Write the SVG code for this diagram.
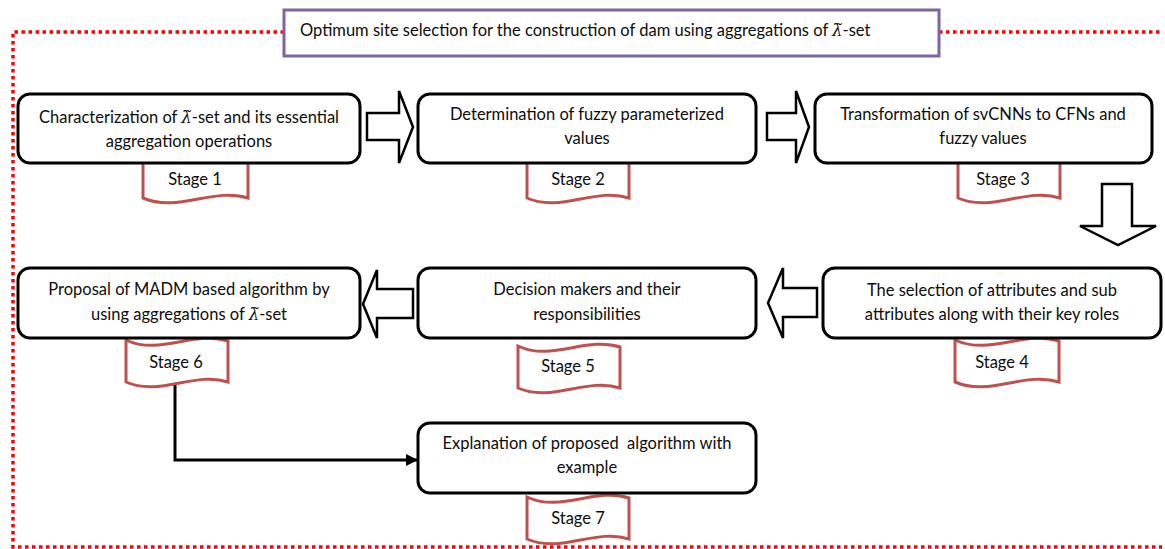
<svg xmlns="http://www.w3.org/2000/svg" width="1165" height="549" viewBox="0 0 1165 549">
<style>
.box{fill:#fff;stroke:#000;stroke-width:3}
.ban{fill:#fff;stroke:#C0504D;stroke-width:3}
.blk{fill:#fff;stroke:#000;stroke-width:2.5;stroke-linejoin:miter}
.t{font-family:Lato,"Liberation Sans","DejaVu Sans",sans-serif;font-size:16.5px;fill:#0d0d0d;text-anchor:middle}
.lam{font-style:italic;font-family:"DejaVu Serif","Liberation Serif",serif}
.dot{fill:none;stroke:#FF0000;stroke-width:3.5;stroke-dasharray:3.5 3.5}
</style>
<defs>
<marker id="ah" markerWidth="12" markerHeight="12" refX="11" refY="6" orient="auto" markerUnits="userSpaceOnUse">
<path d="M0,0 L12,6 L0,12 Z" fill="#000"/>
</marker>
</defs>
<rect width="1165" height="549" fill="#fff"/>
<g id="frame">
<path class="dot" d="M284,32 L13,32 L13,547 L1162,547"/>
<path class="dot" d="M939,32 L1162,32"/>
</g>
<g id="title">
<rect x="284" y="10" width="655" height="46" fill="#fff" stroke="#8064A2" stroke-width="3"/>
<text x="300" y="36" class="t" style="text-anchor:start">Optimum site selection for the construction of dam using aggregations of <tspan class="lam">λ̃</tspan>-set</text>
</g>
<g id="connectors">
<polygon class="blk" points="367,113 399,113 399,91 413,127 399,163 399,140 367,140"/>
<polygon class="blk" points="767,113 796,113 796,91 809,127 796,163 796,140 767,140"/>
<polygon class="blk" points="1102,184 1132,184 1132,226 1156,226 1118,245 1080,226 1102,226"/>
<polygon class="blk" points="817,288 783,288 783,268 768,303 783,338 783,317 817,317"/>
<polygon class="blk" points="413,289 377,289 377,270 363,304 377,338 377,318 413,318"/>
<path d="M175,384 L175,460 L417,460" fill="none" stroke="#000" stroke-width="3" marker-end="url(#ah)"/>
</g>
<g id="stage1">
<path class="ban" d="M143,156 C178,172 213,146 248,157 L248,198 C213,187 178,213 143,198 Z"/>
<rect class="box" x="18" y="94" width="342" height="69" rx="12"/>
<text class="t" x="189" y="123">Characterization of <tspan class="lam">λ̃</tspan>-set and its essential</text>
<text class="t" x="189" y="147">aggregation operations</text>
<text class="t" x="195" y="185">Stage 1</text>
</g>
<g id="stage2">
<path class="ban" d="M527,156 C561,172 595,146 629,157 L629,198 C595,187 561,213 527,198 Z"/>
<rect class="box" x="418" y="94" width="338" height="69" rx="12"/>
<text class="t" x="587" y="120">Determination of fuzzy parameterized</text>
<text class="t" x="587" y="144">values</text>
<text class="t" x="578" y="185">Stage 2</text>
</g>
<g id="stage3">
<path class="ban" d="M958,156 C992,172 1026,146 1060,157 L1060,198 C1026,187 992,213 958,198 Z"/>
<rect class="box" x="815" y="94" width="337" height="69" rx="12"/>
<text class="t" x="983" y="120">Transformation of svCNNs to CFNs and</text>
<text class="t" x="983" y="144">fuzzy values</text>
<text class="t" x="1003" y="185">Stage 3</text>
</g>
<g id="stage4">
<path class="ban" d="M955,340 C990,356 1024,330 1059,341 L1059,382 C1024,371 990,397 955,382 Z"/>
<rect class="box" x="823" y="268" width="338" height="70" rx="12"/>
<text class="t" x="992" y="296">The selection of attributes and sub</text>
<text class="t" x="992" y="320">attributes along with their key roles</text>
<text class="t" x="1002" y="368">Stage 4</text>
</g>
<g id="stage5">
<path class="ban" d="M518,346 C552,362 586,336 620,347 L620,388 C586,377 552,403 518,388 Z"/>
<rect class="box" x="418" y="268" width="338" height="70" rx="12"/>
<text class="t" x="587" y="295">Decision makers and their</text>
<text class="t" x="587" y="320">responsibilities</text>
<text class="t" x="568" y="372">Stage 5</text>
</g>
<g id="stage6">
<path class="ban" d="M126,340 C160,356 194,330 228,341 L228,382 C194,371 160,397 126,382 Z"/>
<rect class="box" x="18" y="268" width="342" height="70" rx="12"/>
<text class="t" x="189" y="295">Proposal of MADM based algorithm by</text>
<text class="t" x="189" y="320">using aggregations of <tspan class="lam">λ̃</tspan>-set</text>
<text class="t" x="176" y="368">Stage 6</text>
</g>
<g id="stage7">
<path class="ban" d="M527,497 C561,513 595,487 629,498 L629,539 C595,528 561,554 527,539 Z"/>
<rect class="box" x="418" y="423" width="338" height="70" rx="12"/>
<text class="t" x="587" y="449">Explanation of proposed&#160; algorithm with</text>
<text class="t" x="587" y="473">example</text>
<text class="t" x="578" y="524">Stage 7</text>
</g>
</svg>
